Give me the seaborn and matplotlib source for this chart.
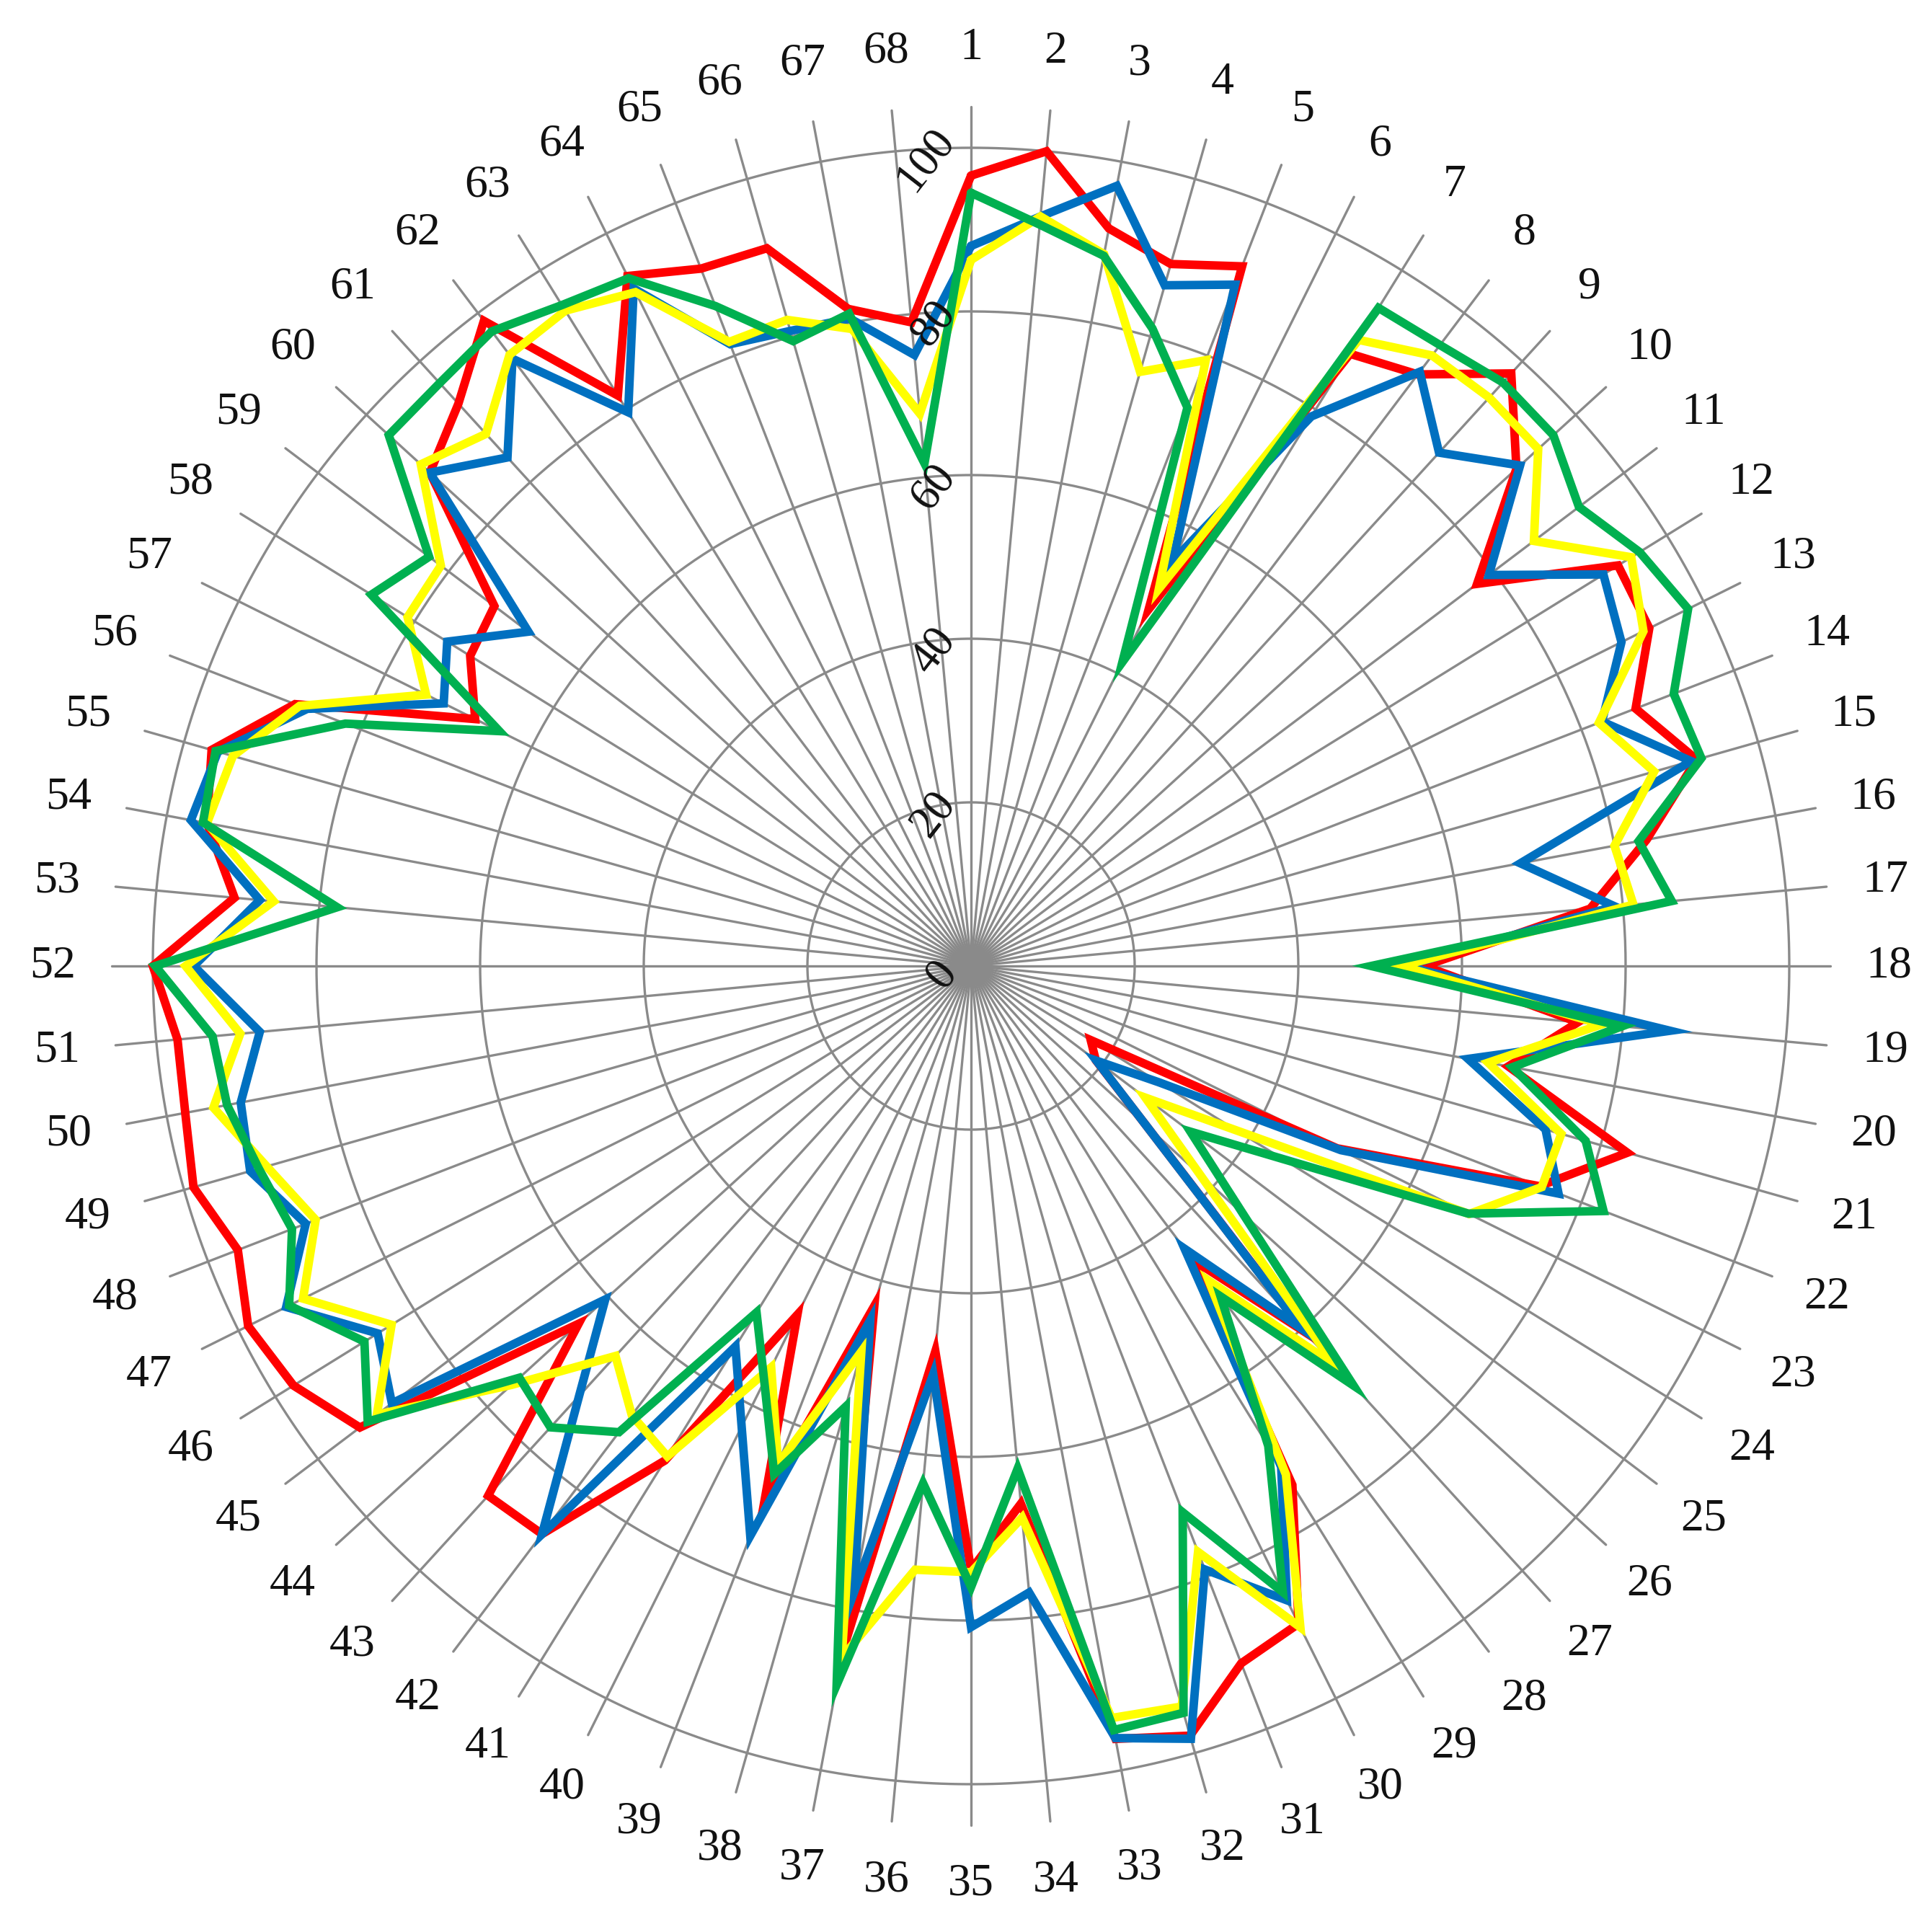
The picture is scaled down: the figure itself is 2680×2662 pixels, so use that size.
import numpy as np
import pandas as pd
import matplotlib
import matplotlib.pyplot as plt
import seaborn as sns

matplotlib.use("Agg")

# categories 1..68 around the radar, clockwise from the top
CATEGORIES = [str(i) for i in range(1, 69)]

RED = [96.6, 100, 91.7, 89.2, 91.7, 48.7, 88.0, 90.6, 98.0, 90.2,
       77.5, 93.0, 92.6, 87.1, 92.2, 84.0, 76.0, 55.4, 74.5, 66.8,
       83.4, 74.5, 50.0, 17.2, 19.1, 29.0, 60.5, 45.0, 74.6, 89.8,
       91.4, 97.8, 96.1, 66.0, 73.8, 47.3, 85.0, 43.2, 69.7, 47.6,
       71.1, 87.0, 87.6, 64.9, 93.6, 97.4, 98.7, 96.1, 98.8, 97.7,
       97.4, 100, 90.4, 95.0, 96.5, 88.6, 67.7, 72.0, 73.0, 89.5,
       93.0, 98.8, 82.0, 94.2, 91.4, 91.2, 81.7, 79.0]

BLUE = [88.0, 92.0, 97.0, 86.5, 89.3, 55.3, 79.0, 91.0, 84.9, 90.8,
        79.3, 90.9, 88.8, 82.7, 91.5, 68.3, 79.0, 53.0, 85.8, 61.8,
        73.0, 77.0, 50.5, 27.0, 19.2, 29.0, 60.0, 43.3, 72.0, 86.6,
        79.1, 98.2, 96.0, 76.9, 80.8, 50.1, 77.9, 45.0, 74.7, 62.9,
        54.7, 87.0, 71.1, 60.5, 88.7, 85.3, 93.5, 87.2, 91.6, 90.8,
        87.3, 95.0, 87.3, 97.0, 95.7, 87.0, 72.0, 75.3, 67.8, 89.5,
        84.1, 93.0, 79.6, 92.5, 81.5, 80.7, 80.5, 75.0]

YELLOW = [86.3, 92.0, 88.5, 75.5, 79.4, 51.5, 90.0, 93.5, 94.0, 93.8,
          86.2, 94.9, 91.8, 82.3, 86.8, 80.0, 81.3, 52.6, 77.4, 64.3,
          75.0, 74.8, 68.0, 38.2, 26.7, 37.9, 66.0, 48.2, 73.1, 90.3,
          76.8, 94.1, 93.5, 67.7, 74.1, 74.1, 86.0, 49.0, 65.3, 54.8,
          70.5, 68.8, 64.5, 76.0, 91.0, 83.3, 91.2, 85.9, 89.5, 94.2,
          89.7, 96.0, 85.6, 95.0, 93.8, 88.0, 74.4, 81.0, 81.2, 91.0,
          88.0, 93.6, 94.2, 92.0, 81.8, 82.1, 79.2, 67.8]

GREEN = [94.5, 91.0, 88.3, 81.0, 73.2, 41.5, 94.6, 95.1, 96.5, 96.3,
         93.1, 96.1, 97.9, 92.1, 92.8, 83.0, 86.0, 48.9, 79.9, 67.3,
         78.1, 82.9, 67.9, 44.8, 33.6, 45.0, 69.4, 50.6, 69.0, 85.5,
         71.6, 94.9, 95.0, 61.7, 75.9, 63.5, 89.4, 56.0, 66.6, 56.7,
         49.8, 71.4, 76.3, 74.7, 92.4, 87.2, 93.1, 89.0, 90.5, 92.5,
         93.1, 99.7, 77.8, 95.5, 96.0, 82.0, 64.4, 86.2, 83.0, 96.3,
         96.4, 97.2, 95.0, 93.9, 86.5, 79.4, 81.1, 61.7]

R_TICKS = [0, 20, 40, 60, 80, 100]

SERIES_ORDER = ["red", "blue", "yellow", "green"]
PALETTE = {"red": "#FF0000", "blue": "#0070C0", "yellow": "#FFFF00", "green": "#00B050"}
GRID_COLOR = "#8a8a8a"

sns.set_theme(style="white")
plt.rcParams["font.family"] = ["Liberation Serif", "DejaVu Serif"]
plt.rcParams["lines.solid_joinstyle"] = "miter"

W, H = 2680, 2662
RMAX = 116
R_PX = 1135 * RMAX / 100
CX, CY = 1347, H - 1340

fig = plt.figure(figsize=(W / 100, H / 100), dpi=100)
fig.patch.set_facecolor("white")
ax = fig.add_axes(
    [(CX - R_PX) / W, (CY - R_PX) / H, 2 * R_PX / W, 2 * R_PX / H],
    projection="polar",
)
ax.set_theta_zero_location("N")
ax.set_theta_direction(-1)
ax.axis("off")

n = len(CATEGORIES)
theta = np.arange(n) * 2 * np.pi / n

# spokes and circular gridlines
for t in theta:
    ax.plot([t, t], [0, 105], color=GRID_COLOR, lw=2.4, zorder=1)
circ = np.linspace(0, 2 * np.pi, 600)
for r in R_TICKS[1:]:
    ax.plot(circ, np.full_like(circ, r), color=GRID_COLOR, lw=2.4, zorder=1)

# series as a long table, closed loops
values = {"red": RED, "blue": BLUE, "yellow": YELLOW, "green": GREEN}
frames = []
for name in SERIES_ORDER:
    v = list(values[name])
    frames.append(pd.DataFrame({
        "theta": np.append(theta, 2 * np.pi),
        "value": v + [v[0]],
        "series": name,
    }))
df = pd.concat(frames, ignore_index=True)

sns.lineplot(
    data=df, x="theta", y="value", hue="series", hue_order=SERIES_ORDER,
    palette=PALETTE, estimator=None, sort=False, linewidth=8.5,
    legend=False, ax=ax, zorder=3,
)
ax.set_ylim(0, RMAX)

# category labels
for t, lab in zip(theta, CATEGORIES):
    ax.text(t, 112.2, lab, ha="center", va="center", fontsize=46,
            color="#111111", zorder=4)

# radial value labels along the top spoke
for v in R_TICKS:
    s = str(v)
    dx = {1: -29, 2: -37, 3: -45}[len(s)]
    dy = -9 if v == 0 else -12
    ax.annotate(s, xy=(0, v), xytext=(dx, dy), textcoords="offset points",
                rotation=52, ha="center", va="center", fontsize=45,
                color="#111111", zorder=4)

fig.savefig("out.png", dpi=100, facecolor="white")
